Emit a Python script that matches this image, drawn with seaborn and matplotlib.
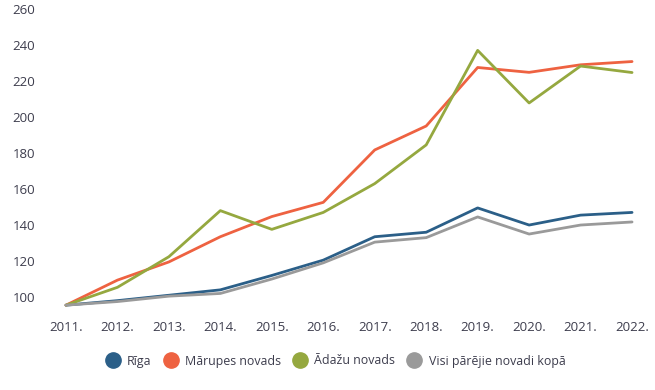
import matplotlib
matplotlib.use("Agg")
import matplotlib.pyplot as plt
from matplotlib.lines import Line2D
import seaborn as sns
import pandas as pd

years = list(range(2011, 2023))
year_labels = [f"{y}." for y in years]
series_names = ["Rīga", "Mārupes novads", "Ādažu novads", "Visi pārējie novadi kopā"]
riga = [95.5, 98, 101, 104, 112, 120.5, 133.5, 136, 149.5, 140, 145.5, 147]
marupe = [95.5, 109.4, 119.5, 133.5, 144.7, 152.6, 181.7, 195, 227.5, 224.8, 229, 230.8]
adazi = [95.5, 105.4, 122.4, 148, 137.6, 147, 163, 184.5, 237, 207.8, 228.3, 224.7]
others = [95.5, 97.5, 100.5, 102, 110, 119, 130.5, 133, 144.5, 135, 140, 141.7]
colors = ["#2b5f88", "#ee6241", "#95a83f", "#9a9a9a"]

values = [riga, marupe, adazi, others]
df = pd.DataFrame({
    "year": years * 4,
    "value": sum(values, []),
    "series": sum([[n] * len(years) for n in series_names], []),
})

sns.set_theme(style="white")
plt.rcParams["font.family"] = ["Open Sans", "DejaVu Sans"]
text_color = "#3d3d4d"

fig = plt.figure(figsize=(6.55, 3.9), dpi=100)
ax = fig.add_axes([50 / 655, 0.206, 598 / 655, 0.771])
sns.lineplot(data=df, x="year", y="value", hue="series", palette=colors,
             hue_order=series_names, linewidth=2, ax=ax, legend=False)

ax.set_xlim(2010.69, 2022.31)
ax.set_ylim(93, 260)
ax.set_xticks(years)
ax.set_xticklabels(year_labels)
ax.set_yticks(range(100, 261, 20))
ax.tick_params(length=0, labelsize=9.5, colors=text_color)
ax.tick_params(axis="x", pad=8)
ax.tick_params(axis="y", pad=27)
for lbl in ax.get_yticklabels():
    lbl.set_horizontalalignment("left")
ax.set_xlabel("")
ax.set_ylabel("")
for s in ax.spines.values():
    s.set_visible(False)
ax.grid(False)

handles = [Line2D([], [], marker="o", linestyle="", markersize=11,
                  markerfacecolor=c, markeredgecolor=c) for c in colors]
fig.legend(handles, series_names, loc="center", bbox_to_anchor=(336 / 655, 1 - 361 / 390),
           ncol=4, frameon=False, fontsize=8.9, handlelength=1.0, handletextpad=0.65,
           columnspacing=1.05, labelcolor=text_color)

fig.savefig("out.png", dpi=100)
